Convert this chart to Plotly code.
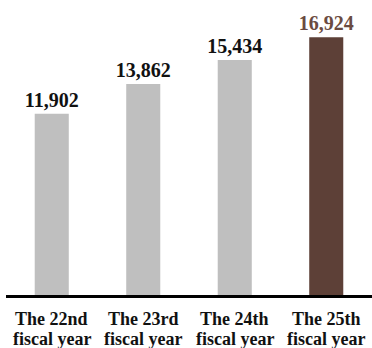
import plotly.graph_objects as go

# Fiscal-year totals
line1 = ["The 22nd", "The 23rd", "The 24th", "The 25th"]
line2 = ["fiscal year", "fiscal year", "fiscal year", "fiscal year"]
values = [11902, 13862, 15434, 16924]
bar_colors = ["#BFBFBF", "#BFBFBF", "#BFBFBF", "#5D4037"]
label_colors = ["#111111", "#111111", "#111111", "#6B4B41"]

categories = [f"{a} {b}" for a, b in zip(line1, line2)]
serif = "Liberation Serif, Times New Roman, serif"

fig = go.Figure(
    go.Bar(
        x=categories,
        y=values,
        marker=dict(color=bar_colors, line=dict(width=0)),
        text=[f"{v:,}" for v in values],
        texttemplate="<b>%{text}</b>",
        textposition="outside",
        constraintext="none",
        textfont=dict(family=serif, size=20, color=label_colors),
        cliponaxis=False,
    )
)

# two-line category labels under the axis
for cat, a, b in zip(categories, line1, line2):
    for txt, shift in ((a, -24), (b, -44)):
        fig.add_annotation(
            x=cat, y=0, xref="x", yref="paper",
            text=f"<b>{txt}</b>", showarrow=False,
            yanchor="middle", yshift=shift,
            font=dict(family=serif, size=18, color="#111111"),
        )

fig.update_layout(
    width=372, height=348,
    margin=dict(l=6, r=0, t=0, b=53),
    paper_bgcolor="white", plot_bgcolor="white",
    bargap=0.628,
    showlegend=False,
    uniformtext=dict(mode=False),
    xaxis=dict(showticklabels=False, showline=True, linecolor="black",
               linewidth=2.5, ticks="", showgrid=False, zeroline=False),
    yaxis=dict(range=[0, 19370], visible=False, showgrid=False),
)

fig.write_html("out.html")
